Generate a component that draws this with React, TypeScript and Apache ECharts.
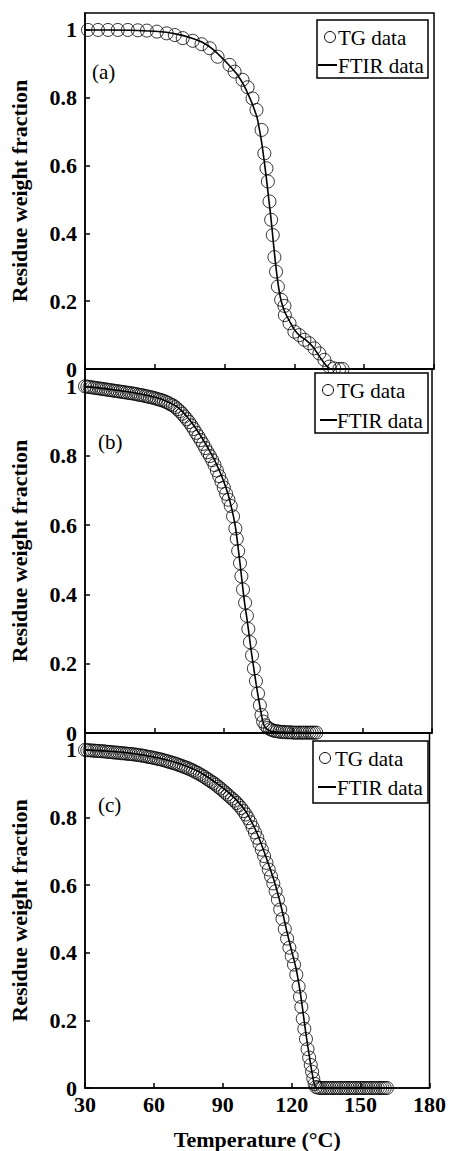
import React, { useEffect, useRef } from "react";
import * as echarts from "echarts";

// Panel (a)
const tgA: [number, number][] = [
  [31.3, 1.0], [35.6, 1.0], [39.9, 1.0], [44.1, 1.0], [48.4, 1.0], [52.7, 0.999], [56.6, 0.998],
  [60.9, 0.995], [65.1, 0.99], [68.6, 0.985], [72.0, 0.976], [76.3, 0.968], [80.1, 0.958],
  [83.6, 0.946], [87.0, 0.921], [92.1, 0.897], [94.3, 0.877], [97.7, 0.853], [99.9, 0.831],
  [102.0, 0.798], [103.7, 0.764], [105.9, 0.705], [107.1, 0.636], [108.0, 0.592], [108.6, 0.553],
  [109.3, 0.494], [110.0, 0.44], [110.7, 0.395], [111.4, 0.33], [112.1, 0.287], [112.9, 0.243],
  [114.3, 0.204], [115.7, 0.186], [115.9, 0.159], [117.9, 0.135], [120.0, 0.11], [122.1, 0.1],
  [124.3, 0.086], [126.4, 0.076], [128.6, 0.061], [130.7, 0.046], [132.9, 0.027], [135.0, 0.007],
  [137.1, 0.002], [139.3, 0.0], [140.7, 0.0],
];
const ftirA: [number, number][] = [
  [30, 1.0], [40, 1.0], [50, 0.999], [60, 0.996], [65, 0.993], [70, 0.987], [75, 0.978],
  [80, 0.965], [85, 0.943], [90, 0.91], [95, 0.872], [98, 0.84], [100, 0.812], [102, 0.78],
  [104, 0.74], [105, 0.705], [106, 0.665], [107, 0.615], [108, 0.56], [109, 0.5], [110, 0.44],
  [111, 0.37], [112, 0.305], [113, 0.25], [114, 0.21], [115, 0.185], [116, 0.166], [118, 0.14],
  [120, 0.116], [122, 0.1], [125, 0.085], [128, 0.065], [130, 0.045], [132, 0.025], [134, 0.008],
  [136, 0.0], [140, 0.0],
];

// Panel (b)
const tgB: [number, number][] = [
  [30, 1.0], [31, 0.999], [32, 0.998], [33, 0.997], [34, 0.996], [35, 0.995], [36, 0.994],
  [37, 0.993], [38, 0.992], [39, 0.991], [40, 0.99], [41, 0.989], [42, 0.988], [43, 0.987],
  [44, 0.986], [45, 0.985], [46, 0.984], [47, 0.983], [48, 0.982], [49, 0.981], [50, 0.98],
  [51, 0.979], [52, 0.978], [53, 0.976], [54, 0.975], [55, 0.974], [56, 0.972], [57, 0.971],
  [58, 0.969], [59, 0.968], [60, 0.966], [61, 0.964], [62, 0.962], [63, 0.96], [64, 0.958],
  [65, 0.955], [66, 0.952], [67, 0.948], [68, 0.945], [69, 0.94], [70, 0.934], [71, 0.928],
  [72, 0.921], [73, 0.913], [74, 0.905], [75, 0.897], [76, 0.887], [77, 0.877], [78, 0.866],
  [79, 0.856], [80, 0.845], [81, 0.834], [82, 0.822], [83, 0.81], [84, 0.799], [85, 0.787],
  [86, 0.773], [87, 0.757], [88, 0.741], [89, 0.725], [90, 0.708], [91, 0.69], [92, 0.673],
  [93, 0.655], [94, 0.625], [95, 0.59], [95.6, 0.56], [96.2, 0.525], [97.0, 0.49], [97.6, 0.452],
  [98.3, 0.414], [99.2, 0.376], [100.0, 0.338], [100.6, 0.3], [101.3, 0.262], [102.2, 0.224],
  [103.0, 0.186], [103.9, 0.15], [104.8, 0.114], [105.6, 0.08], [106.3, 0.052], [107.0, 0.033],
  [108, 0.022], [109, 0.015], [110, 0.011], [111, 0.008], [112, 0.006], [113, 0.005], [114, 0.004],
  [115, 0.003], [116, 0.003], [117, 0.002], [118, 0.002], [119, 0.002], [120, 0.001], [121, 0.001],
  [122, 0.001], [123, 0.001], [124, 0.001], [125, 0.001], [126, 0.001], [127, 0.001], [128, 0.001],
  [129, 0.001], [130, 0.001],
];
const ftirB: [number, number][] = [
  [30, 1.0], [40, 0.992], [50, 0.983], [60, 0.969], [65, 0.958], [70, 0.94], [75, 0.905],
  [80, 0.857], [85, 0.8], [88, 0.758], [90, 0.725], [92, 0.685], [94, 0.63], [95, 0.595],
  [96, 0.545], [97, 0.49], [98, 0.43], [99, 0.375], [100, 0.33], [101, 0.28], [102, 0.23],
  [103, 0.185], [104, 0.14], [105, 0.1], [106, 0.062], [107, 0.03], [108, 0.015], [110, 0.006],
  [115, 0.002], [130, 0.0],
];

// Panel (c)
const tgC: [number, number][] = [
  [30, 1.0], [31, 0.999], [32, 0.999], [33, 0.998], [34, 0.998], [35, 0.997], [36, 0.997],
  [37, 0.996], [38, 0.996], [39, 0.995], [40, 0.994], [41, 0.994], [42, 0.993], [43, 0.992],
  [44, 0.992], [45, 0.991], [46, 0.99], [47, 0.99], [48, 0.989], [49, 0.988], [50, 0.988],
  [51, 0.987], [52, 0.986], [53, 0.985], [54, 0.984], [55, 0.983], [56, 0.982], [57, 0.98],
  [58, 0.979], [59, 0.978], [60, 0.976], [61, 0.975], [62, 0.973], [63, 0.972], [64, 0.97],
  [65, 0.968], [66, 0.966], [67, 0.964], [68, 0.962], [69, 0.96], [70, 0.958], [71, 0.955],
  [72, 0.953], [73, 0.95], [74, 0.948], [75, 0.945], [76, 0.942], [77, 0.939], [78, 0.935],
  [79, 0.932], [80, 0.928], [81, 0.924], [82, 0.92], [83, 0.915], [84, 0.911], [85, 0.906],
  [86, 0.902], [87, 0.897], [88, 0.891], [89, 0.886], [90, 0.88], [91, 0.874], [92, 0.868],
  [93, 0.862], [94, 0.856], [95, 0.85], [96, 0.843], [97, 0.836], [98, 0.828], [99, 0.819],
  [100, 0.809], [101, 0.798], [102, 0.786], [103, 0.771], [104, 0.756], [105, 0.74], [106, 0.722],
  [107, 0.705], [108, 0.686], [109, 0.666], [110, 0.646], [111, 0.626], [112, 0.605], [113, 0.582],
  [114, 0.557], [115, 0.528], [116, 0.5], [117, 0.47], [118, 0.442], [119, 0.415], [120, 0.39],
  [121, 0.365], [122, 0.335], [123, 0.3], [123.6, 0.27], [124.2, 0.24], [124.8, 0.205],
  [125.5, 0.175], [126.2, 0.145], [126.9, 0.115], [127.6, 0.09], [128.3, 0.068], [128.9, 0.048],
  [129.4, 0.028], [130.0, 0.012], [130.6, 0.003], [131.5, 0.001], [132.5, 0.0], [133.5, 0.0],
  [134.5, 0.0], [135.5, 0.0], [136.5, 0.0], [137.5, 0.0], [138.5, 0.0], [139.5, 0.0], [140.5, 0.0],
  [141.5, 0.0], [142.5, 0.0], [143.5, 0.0], [144.5, 0.0], [145.5, 0.0], [146.5, 0.0], [147.5, 0.0],
  [148.5, 0.0], [149.5, 0.0], [150.5, 0.0], [151.5, 0.0], [152.5, 0.0], [153.5, 0.0], [154.5, 0.0],
  [155.5, 0.0], [156.5, 0.0], [157.5, 0.0], [158.5, 0.0], [159.5, 0.0], [160.5, 0.0], [161.5, 0.0],
];
const ftirC: [number, number][] = [
  [30, 1.0], [40, 0.996], [50, 0.99], [60, 0.979], [70, 0.962], [80, 0.934], [90, 0.888],
  [95, 0.858], [100, 0.818], [105, 0.752], [110, 0.66], [113, 0.598], [116, 0.52], [118, 0.46],
  [120, 0.405], [122, 0.35], [124, 0.27], [126, 0.17], [128, 0.08], [129, 0.04], [130, 0.008],
  [131, 0.0], [162, 0.0],
];

const xTicks = [30, 60, 90, 120, 150, 180];
const yTicks = [0, 0.2, 0.4, 0.6, 0.8, 1];
const panelLabels = ["(a)", "(b)", "(c)"];
const legendNames = ["TG data", "FTIR data"];
const xTitle = "Temperature (°C)";
const yTitle = "Residue weight fraction";

const SERIF = "Liberation Serif";

export default function App() {
  const ref = useRef<HTMLDivElement>(null);
  useEffect(() => {
    if (!ref.current) return;
    const chart = echarts.init(ref.current, undefined, { renderer: "svg" });
    const grids = [
      { left: 85, top: 13, width: 349, height: 356 },
      { left: 84, top: 369, width: 348, height: 364 },
      { left: 82, top: 733, width: 349, height: 355 },
    ];
    const yFmt = (v: number) => {
      const hit = yTicks.find((t) => Math.abs(t - v) < 1e-6);
      return hit === undefined ? "" : String(hit);
    };
    const axisLine = { show: true, onZero: false, lineStyle: { color: "#000", width: 1.5 } };
    const xAxes = grids.map((_, i) => ({
      type: "value",
      gridIndex: i,
      min: xTicks[0],
      max: xTicks[xTicks.length - 1],
      interval: 30,
      axisLine,
      axisTick: { show: true, inside: true, length: 5, lineStyle: { color: "#000", width: 1.5 } },
      splitLine: { show: false },
      axisLabel: {
        show: i === 2,
        margin: 5,
        color: "#000",
        fontFamily: SERIF,
        fontWeight: "bold",
        fontSize: 22,
      },
      name: i === 2 ? xTitle : "",
      nameLocation: "middle",
      nameGap: 40,
      nameTextStyle: { color: "#000", fontFamily: SERIF, fontWeight: "bold", fontSize: 22 },
    }));
    const yAxes = grids.map((_, i) => ({
      type: "value",
      gridIndex: i,
      min: 0,
      max: 1.05,
      interval: 0.2,
      axisLine,
      axisTick: { show: true, inside: true, length: 5, lineStyle: { color: "#000", width: 1.5 } },
      splitLine: { show: false },
      axisLabel: {
        margin: 8,
        color: "#000",
        fontFamily: SERIF,
        fontWeight: "bold",
        fontSize: 22,
        lineHeight: 16,
        showMaxLabel: false,
        formatter: yFmt,
      },
      name: yTitle,
      nameLocation: "middle",
      nameGap: 55,
      nameTextStyle: { color: "#000", fontFamily: SERIF, fontWeight: "bold", fontSize: 22 },
    }));
    const tg = [tgA, tgB, tgC];
    const ft = [ftirA, ftirB, ftirC];
    const series: any[] = [];
    for (let i = 0; i < 3; i++) {
      series.push({
        name: legendNames[0],
        type: "scatter",
        xAxisIndex: i,
        yAxisIndex: i,
        data: tg[i],
        symbol: "circle",
        symbolSize: 13,
        itemStyle: { color: "rgba(0,0,0,0)", borderColor: "#000", borderWidth: 1 },
        z: 2,
      });
      series.push({
        name: legendNames[1],
        type: "line",
        xAxisIndex: i,
        yAxisIndex: i,
        data: ft[i],
        smooth: 0.3,
        showSymbol: false,
        lineStyle: { color: "#000", width: 1.6 },
        z: 3,
      });
    }
    const legendBoxes = [
      { x: 317, y: 20, w: 111, h: 58, cx: 330, r1: 37, r2: 65, lx1: 318, lx2: 337, tx1: 338, tx2: 338 },
      { x: 315, y: 373, w: 113, h: 60, cx: 328, r1: 390, r2: 420, lx1: 320, lx2: 337, tx1: 337, tx2: 337 },
      { x: 313, y: 741, w: 115, h: 62, cx: 325, r1: 758, r2: 787, lx1: 318, lx2: 336, tx1: 335, tx2: 337 },
    ];
    const labelPos = [
      { x: 92, y: 72 },
      { x: 98, y: 442 },
      { x: 98, y: 805 },
    ];
    const textStyle = (s: string, x: number, y: number) => ({
      type: "text",
      x,
      y,
      style: {
        text: s,
        fontFamily: SERIF,
        fontSize: 21,
        fill: "#000",
        verticalAlign: "middle",
        align: "left",
      },
      z: 10,
    });
    const graphic: any[] = [];
    legendBoxes.forEach((b, i) => {
      graphic.push({
        type: "rect",
        shape: { x: b.x, y: b.y, width: b.w, height: b.h },
        style: { fill: "#fff", stroke: "#000", lineWidth: 1.5 },
        z: 9,
      });
      graphic.push({
        type: "circle",
        shape: { cx: b.cx, cy: b.r1, r: 5.5 },
        style: { fill: "none", stroke: "#000", lineWidth: 1 },
        z: 10,
      });
      graphic.push(textStyle(legendNames[0], b.tx1, b.r1 + 1));
      graphic.push({
        type: "line",
        shape: { x1: b.lx1, y1: b.r2, x2: b.lx2, y2: b.r2 },
        style: { stroke: "#000", lineWidth: 2 },
        z: 10,
      });
      graphic.push(textStyle(legendNames[1], b.tx2, b.r2 + 1));
      graphic.push(textStyle(panelLabels[i], labelPos[i].x, labelPos[i].y));
    });
    const gridOpts = grids.map((g) => ({
      ...g,
      show: true,
      borderColor: "#000",
      borderWidth: 1.5,
      backgroundColor: "transparent",
    }));
    chart.setOption({
      animation: false,
      backgroundColor: "#fff",
      grid: gridOpts,
      xAxis: xAxes,
      yAxis: yAxes,
      series,
      graphic,
    });
    return () => chart.dispose();
  }, []);
  return (
    <div
      ref={ref}
      style={{ position: "absolute", left: 0, top: 0, width: 449, height: 1151 }}
    />
  );
}
